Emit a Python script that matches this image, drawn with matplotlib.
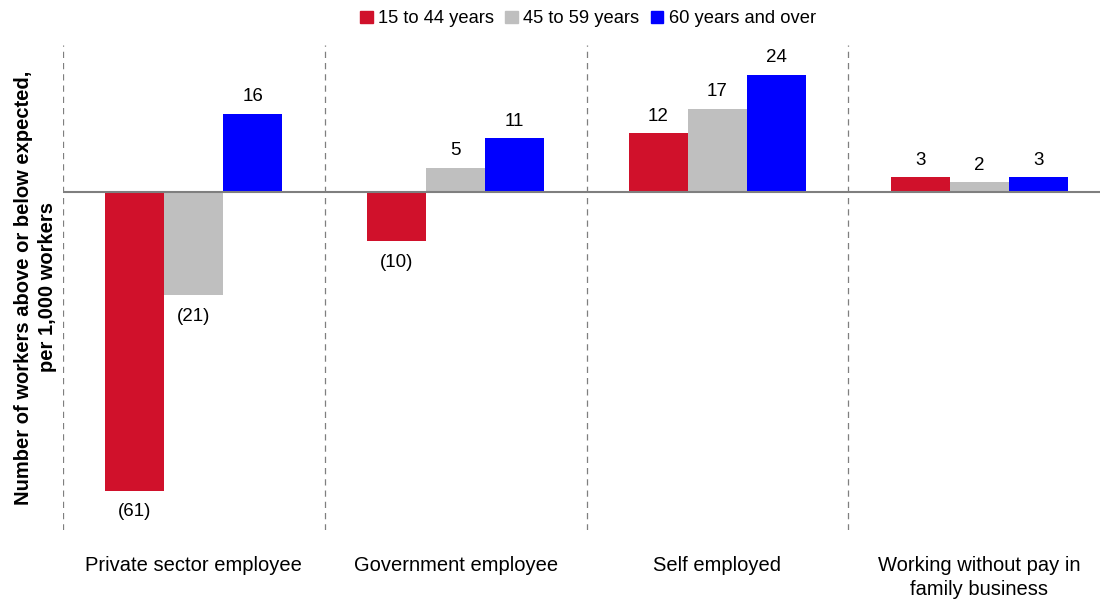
import numpy as np
import matplotlib.pyplot as plt
from matplotlib.patches import Patch

plt.rcParams['font.family'] = ['Liberation Sans', 'DejaVu Sans']

categories = ['Private sector employee', 'Government employee', 'Self employed',
              'Working without pay in\nfamily business']
series = ['15 to 44 years', '45 to 59 years', '60 years and over']
young = [-61, -10, 12, 3]
middle = [-21, 5, 17, 2]
older = [16, 11, 24, 3]
colors = ['#D0112B', '#BFBFBF', '#0000FF']

fig = plt.figure(figsize=(11.03, 6.02), dpi=100)
ax = fig.add_axes([0.057, 0.12, 0.94, 0.805])

x = np.arange(len(categories))
w = 0.225
for i, (vals, c) in enumerate(zip([young, middle, older], colors)):
    pos = x + (i - 1) * w
    ax.bar(pos, vals, width=w, color=c, zorder=2)
    for p, v in zip(pos, vals):
        if v < 0:
            ax.text(p, v - 2.6, f'({abs(v)})', ha='center', va='top', fontsize=13.5)
        else:
            ax.text(p, v + 1.7, f'{v}', ha='center', va='bottom', fontsize=13.5)

ax.axhline(0, color='#7f7f7f', lw=1.5, zorder=3)
for b in np.arange(len(categories)) - 0.5:
    ax.axvline(b, color='#7f7f7f', lw=0.9, ls=(0, (5, 4)), zorder=1)

ax.set_xlim(-0.5, 3.46)
ax.set_ylim(-69, 30)
for s in ax.spines.values():
    s.set_visible(False)
ax.set_yticks([])
ax.set_xticks(x)
ax.set_xticklabels(categories, fontsize=14.5, linespacing=1.3)
ax.tick_params(axis='x', length=0, pad=19)
ax.set_ylabel('Number of workers above or below expected,\nper 1,000 workers',
              fontsize=14.5, fontweight='bold', labelpad=4, linespacing=1.35)

handles = [Patch(color=c) for c in colors]
fig.legend(handles, series, loc='upper center', bbox_to_anchor=(0.533, 1.01),
           ncol=3, frameon=False, fontsize=13.2, handlelength=0.7, handleheight=0.7,
           handletextpad=0.3, columnspacing=0.6)

fig.savefig('out.png', dpi=100)
